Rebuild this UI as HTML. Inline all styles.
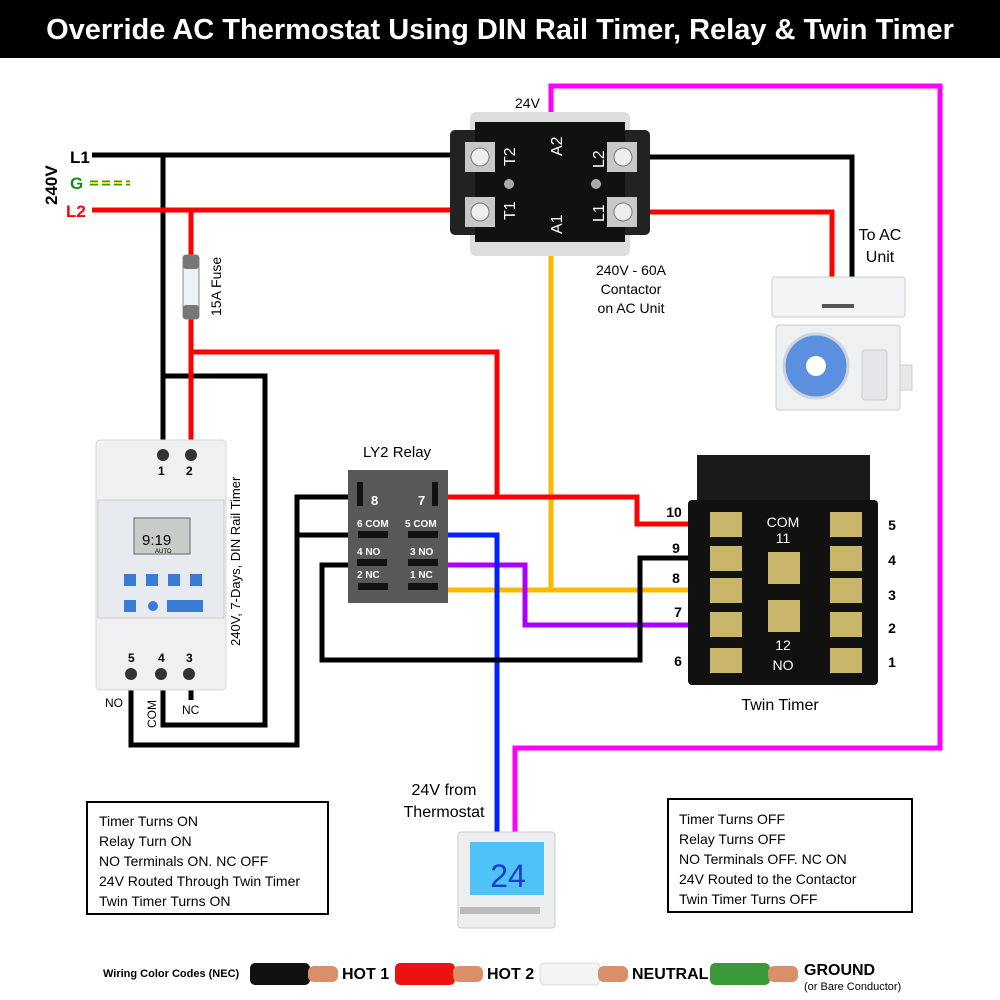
<!DOCTYPE html>
<html><head><meta charset="utf-8"><style>
body{margin:0;background:#fff}
svg{display:block}
text{font-family:"Liberation Sans",sans-serif}
</style></head><body>
<svg width="1000" height="1000" viewBox="0 0 1000 1000" xmlns="http://www.w3.org/2000/svg">
<rect x="0" y="0" width="1000" height="58" fill="#000"/>
<text x="500" y="39" font-size="29" font-weight="bold" fill="#fff" text-anchor="middle">Override AC Thermostat Using DIN Rail Timer, Relay &amp; Twin Timer</text>

<g fill="none" stroke-width="5" stroke-linejoin="miter">
<polyline points="551,120 551,86 940,86 940,748 515,748 515,840" stroke="#ff00ff"/>
<polyline points="551,255 551,590 705,590" stroke="#ffb800"/>
<line x1="440" y1="590" x2="551" y2="590" stroke="#ffb800"/>
<polyline points="440,565 525,565 525,625 705,625" stroke="#aa00ff"/>
<polyline points="440,535 497,535 497,840" stroke="#0022ff"/>
<polyline points="92,155 455,155" stroke="#000"/>
<polyline points="645,157 852,157 852,278" stroke="#000"/>
<line x1="163" y1="155" x2="163" y2="445" stroke="#000"/>
<polyline points="163,376 265,376 265,725 163,725 163,680" stroke="#000"/>
<polyline points="131,680 131,745 297,745 297,497 350,497" stroke="#000"/>
<line x1="297" y1="535" x2="350" y2="535" stroke="#000"/>
<polyline points="350,565 322,565 322,660 640,660 640,558 705,558" stroke="#000"/>
<line x1="191" y1="680" x2="191" y2="700" stroke="#000"/>
<polyline points="92,210 455,210" stroke="#ff0000"/>
<polyline points="645,212 832,212 832,278" stroke="#ff0000"/>
<line x1="191" y1="210" x2="191" y2="445" stroke="#ff0000"/>
<polyline points="191,352 497,352 497,497" stroke="#ff0000"/>
<polyline points="440,497 637,497 637,524 705,524" stroke="#ff0000"/>
</g>
<line x1="90" y1="183" x2="130" y2="183" stroke="#2a9d2a" stroke-width="5" stroke-dasharray="8,4"/>
<line x1="90" y1="183" x2="130" y2="183" stroke="#ffe600" stroke-width="2" stroke-dasharray="8,4"/>

<text x="70" y="163" font-size="17" font-weight="bold">L1</text>
<text x="70" y="189" font-size="17" font-weight="bold" fill="#1a8a1a">G</text>
<text x="66" y="217" font-size="17" font-weight="bold" fill="#ff0000">L2</text>
<text transform="translate(57,205) rotate(-90)" font-size="17" font-weight="bold">240V</text>

<rect x="183" y="255" width="16" height="64" rx="3" fill="#eef1f5" stroke="#888"/>
<rect x="183" y="255" width="16" height="14" rx="3" fill="#777"/>
<rect x="183" y="305" width="16" height="14" rx="3" fill="#777"/>
<text transform="translate(221,316) rotate(-90)" font-size="14">15A Fuse</text>

<rect x="470" y="112" width="160" height="144" rx="6" fill="#ddd"/>
<rect x="450" y="130" width="200" height="105" rx="5" fill="#222"/>
<rect x="475" y="122" width="150" height="120" fill="#111"/>
<rect x="465" y="142" width="30" height="30" fill="#c8c8c8"/>
<rect x="465" y="197" width="30" height="30" fill="#c8c8c8"/>
<rect x="607" y="142" width="30" height="30" fill="#c8c8c8"/>
<rect x="607" y="197" width="30" height="30" fill="#c8c8c8"/>
<circle cx="480" cy="157" r="9" fill="#eee" stroke="#777"/>
<circle cx="480" cy="212" r="9" fill="#eee" stroke="#777"/>
<circle cx="623" cy="157" r="9" fill="#eee" stroke="#777"/>
<circle cx="623" cy="212" r="9" fill="#eee" stroke="#777"/>
<circle cx="509" cy="184" r="5" fill="#aaa"/><circle cx="596" cy="184" r="5" fill="#aaa"/>
<g fill="#fff" font-size="16">
<text transform="translate(515,166) rotate(-90)">T2</text>
<text transform="translate(515,220) rotate(-90)">T1</text>
<text transform="translate(562,156) rotate(-90)">A2</text>
<text transform="translate(562,234) rotate(-90)">A1</text>
<text transform="translate(604,168) rotate(-90)">L2</text>
<text transform="translate(604,222) rotate(-90)">L1</text>
</g>
<text x="515" y="108" font-size="14">24V</text>
<g font-size="14" text-anchor="middle"><text x="631" y="275">240V - 60A</text><text x="631" y="294">Contactor</text><text x="631" y="313">on AC Unit</text></g>

<text x="880" y="240" font-size="16" text-anchor="middle">To AC</text>
<text x="880" y="262" font-size="16" text-anchor="middle">Unit</text>
<rect x="772" y="277" width="133" height="40" rx="3" fill="#f2f4f6" stroke="#ccc"/>
<rect x="822" y="304" width="32" height="4" fill="#555"/>
<rect x="776" y="325" width="124" height="85" rx="3" fill="#eef0f2" stroke="#ccc"/>
<rect x="900" y="365" width="12" height="25" fill="#e6e8ea" stroke="#ccc"/>
<circle cx="816" cy="366" r="32" fill="#5b8fe0" stroke="#d0d4da" stroke-width="3"/>
<circle cx="816" cy="366" r="10" fill="#fff"/>
<rect x="862" y="350" width="25" height="50" rx="3" fill="#e4e6e9" stroke="#ccc"/>

<rect x="96" y="440" width="130" height="250" rx="4" fill="#eef0f2" stroke="#d8d8d8"/>
<rect x="98" y="500" width="126" height="118" fill="#e7ebef" stroke="#ccc"/>
<circle cx="163" cy="455" r="6" fill="#333"/><circle cx="191" cy="455" r="6" fill="#333"/>
<text x="158" y="475" font-size="12" font-weight="bold">1</text><text x="186" y="475" font-size="12" font-weight="bold">2</text>
<rect x="134" y="518" width="56" height="36" fill="#c8ccc8" stroke="#666"/>
<text x="142" y="545" font-size="15" font-family="Liberation Mono">9:19</text>
<text x="155" y="553" font-size="6">AUTO</text>
<g fill="#3a7bd5"><rect x="124" y="574" width="12" height="12"/><rect x="146" y="574" width="12" height="12"/><rect x="168" y="574" width="12" height="12"/><rect x="190" y="574" width="12" height="12"/><rect x="124" y="600" width="12" height="12"/><circle cx="153" cy="606" r="5"/><rect x="167" y="600" width="36" height="12"/></g>
<text x="128" y="662" font-size="12" font-weight="bold">5</text><text x="158" y="662" font-size="12" font-weight="bold">4</text><text x="186" y="662" font-size="12" font-weight="bold">3</text>
<circle cx="131" cy="674" r="6" fill="#333"/><circle cx="161" cy="674" r="6" fill="#333"/><circle cx="189" cy="674" r="6" fill="#333"/>
<text transform="translate(240,646) rotate(-90)" font-size="13">240V, 7-Days, DIN Rail Timer</text>
<text x="105" y="707" font-size="12">NO</text>
<text transform="translate(156,728) rotate(-90)" font-size="12">COM</text>
<text x="182" y="714" font-size="12">NC</text>

<text x="397" y="457" font-size="15" text-anchor="middle">LY2 Relay</text>
<rect x="348" y="470" width="100" height="133" fill="#585858"/>
<g fill="#fff" font-size="13" font-weight="bold"><text x="371" y="505">8</text><text x="418" y="505">7</text></g>
<g fill="#fff" font-size="10" font-weight="bold"><text x="357" y="527">6 COM</text><text x="405" y="527">5 COM</text><text x="357" y="555">4 NO</text><text x="410" y="555">3 NO</text><text x="357" y="578">2 NC</text><text x="410" y="578">1 NC</text></g>
<g fill="#111"><rect x="357" y="482" width="6" height="24"/><rect x="432" y="482" width="6" height="24"/><rect x="358" y="531" width="30" height="7"/><rect x="408" y="531" width="30" height="7"/><rect x="357" y="559" width="30" height="7"/><rect x="408" y="559" width="30" height="7"/><rect x="358" y="583" width="30" height="7"/><rect x="408" y="583" width="30" height="7"/></g>

<rect x="697" y="455" width="173" height="50" fill="#1a1a1a"/>
<rect x="688" y="500" width="190" height="185" rx="4" fill="#111"/>
<g fill="#c9b66a">
<rect x="710" y="512" width="32" height="25"/><rect x="710" y="546" width="32" height="25"/><rect x="710" y="578" width="32" height="25"/><rect x="710" y="612" width="32" height="25"/><rect x="710" y="648" width="32" height="25"/>
<rect x="830" y="512" width="32" height="25"/><rect x="830" y="546" width="32" height="25"/><rect x="830" y="578" width="32" height="25"/><rect x="830" y="612" width="32" height="25"/><rect x="830" y="648" width="32" height="25"/>
<rect x="768" y="552" width="32" height="32"/><rect x="768" y="600" width="32" height="32"/></g>
<g fill="#fff" font-size="14" text-anchor="middle"><text x="783" y="527">COM</text><text x="783" y="543">11</text><text x="783" y="650">12</text><text x="783" y="670">NO</text></g>
<g font-size="14" font-weight="bold" text-anchor="middle"><text x="674" y="517">10</text><text x="676" y="553">9</text><text x="676" y="583">8</text><text x="678" y="617">7</text><text x="678" y="666">6</text>
<text x="892" y="530">5</text><text x="892" y="565">4</text><text x="892" y="600">3</text><text x="892" y="633">2</text><text x="892" y="667">1</text></g>
<text x="780" y="710" font-size="16" text-anchor="middle">Twin Timer</text>

<text x="444" y="795" font-size="16" text-anchor="middle">24V from</text>
<text x="444" y="817" font-size="16" text-anchor="middle">Thermostat</text>
<rect x="458" y="832" width="97" height="96" rx="3" fill="#eceeef" stroke="#ccc"/>
<rect x="470" y="842" width="74" height="53" fill="#4fc3f7"/>
<text x="508" y="887" font-size="32" fill="#1a3cd0" text-anchor="middle" font-family="Liberation Mono">24</text>
<rect x="460" y="907" width="80" height="7" fill="#bbb"/>

<rect x="87" y="802" width="241" height="112" fill="#fff" stroke="#000" stroke-width="2"/>
<g font-size="14"><text x="99" y="826">Timer Turns ON</text><text x="99" y="846">Relay Turn ON</text><text x="99" y="866">NO Terminals ON. NC OFF</text><text x="99" y="886">24V Routed Through Twin Timer</text><text x="99" y="906">Twin Timer Turns ON</text></g>
<rect x="668" y="799" width="244" height="113" fill="#fff" stroke="#000" stroke-width="2"/>
<g font-size="14"><text x="679" y="824">Timer Turns OFF</text><text x="679" y="844">Relay Turns OFF</text><text x="679" y="864">NO Terminals OFF. NC ON</text><text x="679" y="884">24V Routed to the Contactor</text><text x="679" y="904">Twin Timer Turns OFF</text></g>

<text x="103" y="977" font-size="11" font-weight="bold">Wiring Color Codes (NEC)</text>
<rect x="250" y="963" width="60" height="22" rx="5" fill="#111"/><rect x="308" y="966" width="30" height="16" rx="6" fill="#d9906a"/>
<text x="342" y="979" font-size="16" font-weight="bold">HOT 1</text>
<rect x="395" y="963" width="60" height="22" rx="5" fill="#ee1111"/><rect x="453" y="966" width="30" height="16" rx="6" fill="#d9906a"/>
<text x="487" y="979" font-size="16" font-weight="bold">HOT 2</text>
<rect x="540" y="963" width="60" height="22" rx="5" fill="#f4f4f4" stroke="#ddd"/><rect x="598" y="966" width="30" height="16" rx="6" fill="#d9906a"/>
<text x="632" y="979" font-size="16" font-weight="bold">NEUTRAL</text>
<rect x="710" y="963" width="60" height="22" rx="5" fill="#3a9a3a"/><rect x="768" y="966" width="30" height="16" rx="6" fill="#d9906a"/>
<text x="804" y="975" font-size="16" font-weight="bold">GROUND</text>
<text x="804" y="990" font-size="11">(or Bare Conductor)</text>
</svg>
</body></html>
